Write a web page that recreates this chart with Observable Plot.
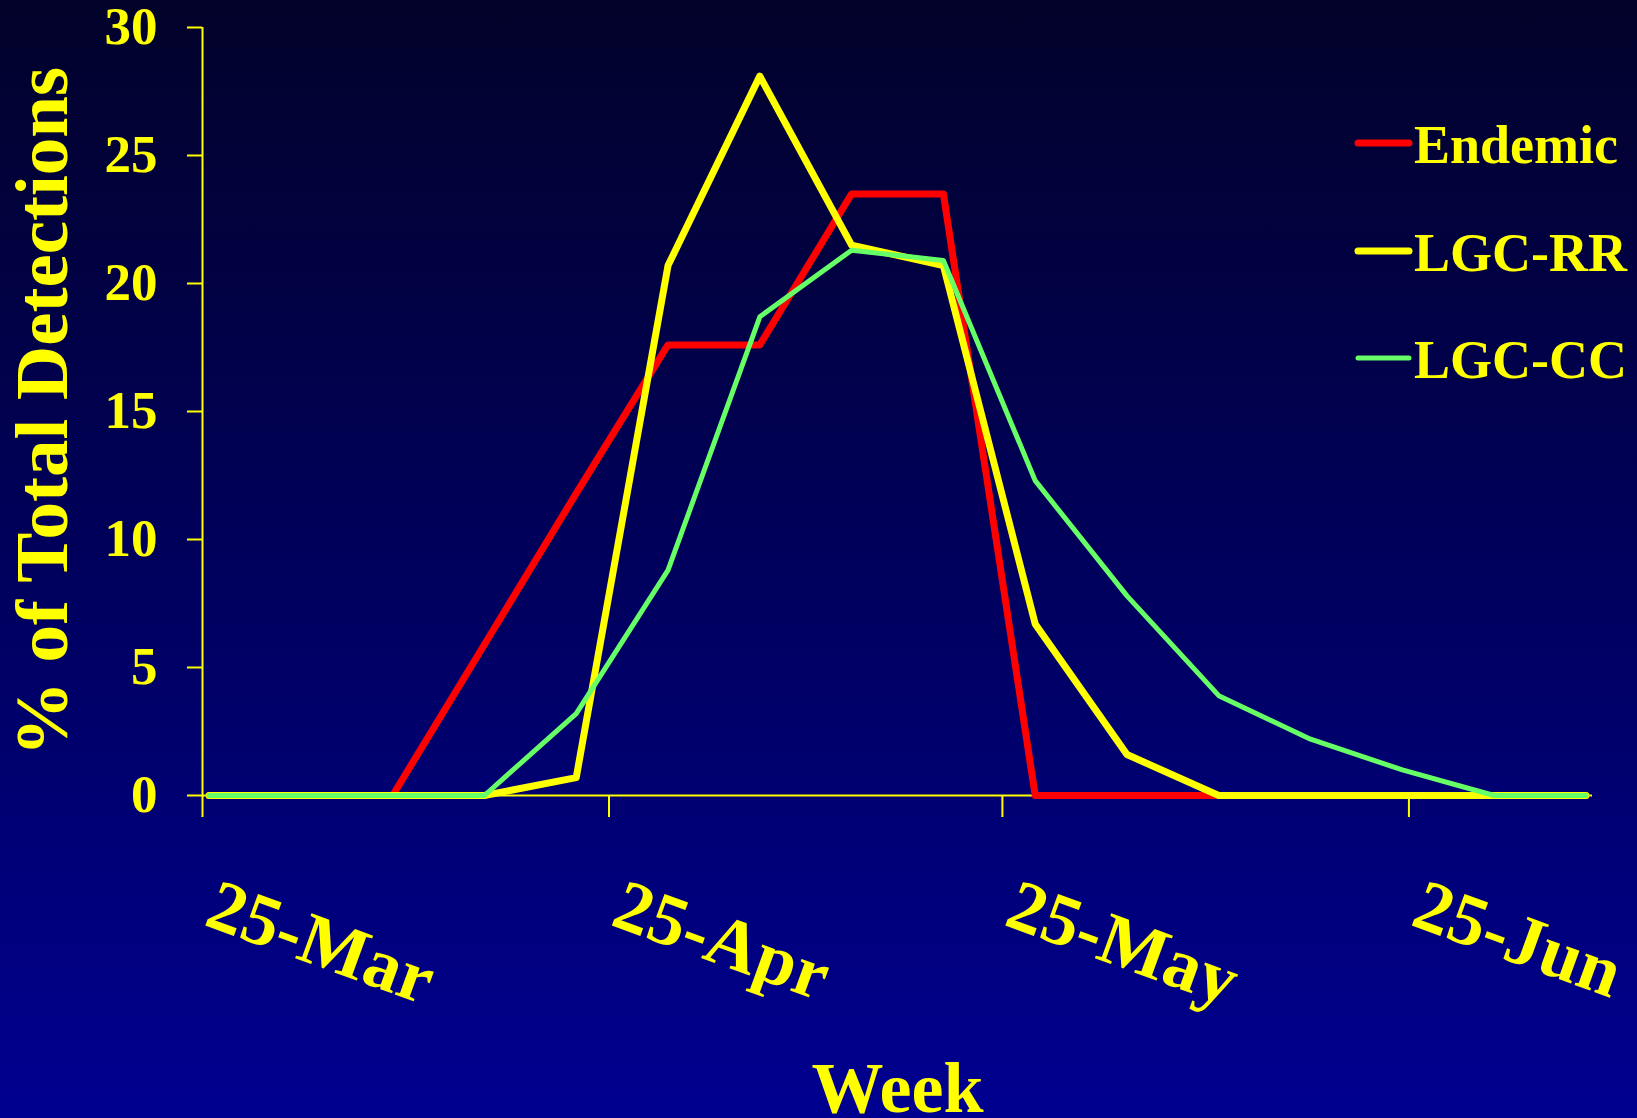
<!DOCTYPE html>
<html>
<head>
<meta charset="utf-8">
<script src="https://cdn.jsdelivr.net/npm/d3@7"></script>
<script src="https://cdn.jsdelivr.net/npm/@observablehq/plot@0.6"></script>
<style>
  html, body { margin: 0; padding: 0; }
  body { width: 1637px; height: 1118px; overflow: hidden;
         background: linear-gradient(to bottom, #02022a 0%, #00005c 50%, #000090 100%); }
  #wrap { position: relative; width: 1637px; height: 1118px; }
  #wrap > svg { position: absolute; left: 0; top: 0; }
</style>
</head>
<body>
<div id="wrap"></div>
<script>
// ---- data ----
const weeks = ["2005-03-25","2005-04-01","2005-04-08","2005-04-15","2005-04-22","2005-04-29",
               "2005-05-06","2005-05-13","2005-05-20","2005-05-27","2005-06-03","2005-06-10",
               "2005-06-17","2005-06-24","2005-07-01","2005-07-08"];
const endemic = [0, 0, 0, 5.9, 11.8, 17.6, 17.6, 23.5, 23.5, 0, 0, 0, 0, 0, 0, 0];
const lgcRR   = [0, 0, 0, 0, 0.7, 20.7, 28.1, 21.5, 20.7, 6.7, 1.6, 0, 0, 0, 0, 0];
const lgcCC   = [0, 0, 0, 0, 3.2, 8.8, 18.7, 21.3, 20.9, 12.3, 7.8, 3.9, 2.2, 1.0, 0, 0];
const seriesNames  = ["Endemic", "LGC-RR", "LGC-CC"];
const seriesColors = ["#ff0000", "#ffff00", "#66ff66"];
const seriesWidths = [7, 7, 5];
const xTickDates  = ["2005-03-25","2005-04-25","2005-05-25","2005-06-25"];
const xTickLabels = ["25-Mar","25-Apr","25-May","25-Jun"];
const yTicks = [0, 5, 10, 15, 20, 25, 30];
const xDomain = ["2005-03-25", "2005-07-09"];
const yLabel = "% of Total Detections";
const xLabel = "Week";

// ---- build ----
const parse = d3.utcParse("%Y-%m-%d");
const seriesValues = [endemic, lgcRR, lgcCC];
// points sit in the middle of their day (date axis, between tick marks)
const table = seriesNames.flatMap((name, s) =>
  weeks.map((w, i) => ({series: name, date: d3.utcHour.offset(parse(w), 12), value: seriesValues[s][i]})));
const tickDates = xTickDates.map(parse);
const labelByTime = new Map(tickDates.map((d, i) => [+d, xTickLabels[i]]));
const domain = xDomain.map(parse);

const font = "'Liberation Serif', 'Times New Roman', Times, serif";

const chart = Plot.plot({
  width: 1637,
  height: 1118,
  marginLeft: 202,
  marginRight: 45,
  marginTop: 27,
  marginBottom: 323,
  style: {background: "transparent", color: "#ffff00", fontFamily: font, fontWeight: "bold", overflow: "visible"},
  x: {type: "utc", domain},
  y: {domain: [0, 30]},
  marks: [
    Plot.axisY({ticks: yTicks, tickSize: 15, tickPadding: 30, fontSize: 53, strokeWidth: 2, label: null, tickFormat: d => String(d)}),
    Plot.axisX({ticks: tickDates, tickSize: 22, strokeWidth: 2, label: null,
                tickFormat: d => labelByTime.get(+d),
                tickRotate: 20, textAnchor: "start", lineAnchor: "bottom", tickPadding: 107, fontSize: 73}),
    Plot.ruleX([domain[0]], {strokeWidth: 2}),
    Plot.ruleY([0], {strokeWidth: 2}),
    ...seriesNames.map((name, s) =>
      Plot.line(table.filter(d => d.series === name), {
        x: "date", y: "value", stroke: seriesColors[s], strokeWidth: seriesWidths[s],
        strokeLinejoin: "round", strokeLinecap: "round"
      })),
    Plot.text([yLabel], {frameAnchor: "left", rotate: -90, dx: -136, lineAnchor: "bottom",
                         textAnchor: "middle", fontSize: 75, fill: "#ffff00"}),
    Plot.text([xLabel], {frameAnchor: "bottom", dy: 316, lineAnchor: "bottom",
                         textAnchor: "middle", fontSize: 72, fill: "#ffff00"})
  ]
});
document.getElementById("wrap").appendChild(chart);

// ---- legend (overlay) ----
const leg = d3.select("#wrap").append("svg")
  .attr("width", 1637).attr("height", 1118)
  .style("pointer-events", "none");
const rowY = [143, 251, 358];
const g = leg.selectAll("g").data(seriesNames).join("g")
  .attr("transform", (d, i) => `translate(1358,${rowY[i]})`);
g.append("line").attr("x1", 0).attr("x2", 51).attr("y1", 0).attr("y2", 0)
  .attr("stroke", (d, i) => seriesColors[i]).attr("stroke-width", (d, i) => seriesWidths[i])
  .attr("stroke-linecap", "round");
g.append("text").attr("x", 56).attr("y", 20)
  .attr("fill", "#ffff00").attr("font-family", font).attr("font-weight", "bold")
  .attr("font-size", 54).text(d => d);
</script>
</body>
</html>
